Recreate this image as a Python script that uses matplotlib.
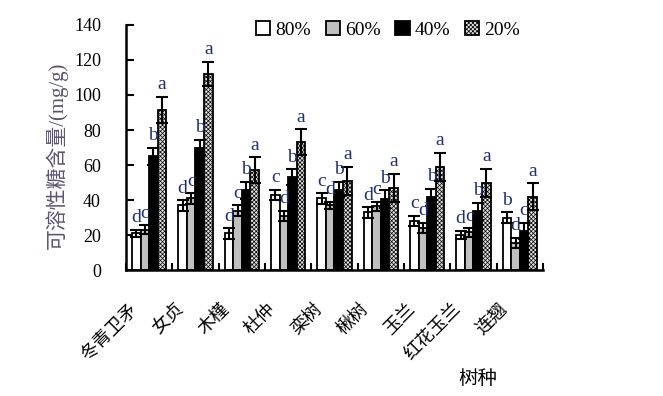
import matplotlib
matplotlib.use("Agg")
import matplotlib.pyplot as plt
import matplotlib.transforms as mtransforms
import numpy as np

species = ["冬青卫矛", "女贞", "木槿", "杜仲", "栾树", "楸树", "玉兰", "红花玉兰", "连翘"]
series = ["80%", "60%", "40%", "20%"]
v80 = [21, 37, 21, 43, 41, 33, 28, 20, 30]
v60 = [23, 41, 34, 31, 37, 36.5, 24, 21.5, 15.5]
v40 = [65, 70, 45.5, 53, 46, 40.5, 41.5, 33.5, 22.5]
v20 = [91.5, 112, 57, 73, 51, 47, 59, 50, 42]
e80 = [2, 3, 3, 3, 3, 3, 3, 2.5, 3]
e60 = [2.5, 3, 3, 3, 2, 2.5, 3, 2.5, 3]
e40 = [5, 4.5, 5, 4.5, 4.5, 5, 5, 5, 4.5]
e20 = [7.5, 7, 7.5, 7.5, 8, 8, 8, 8, 7.5]
letters = [
    ["d", "c", "b", "a"], ["d", "c", "b", "a"], ["d", "c", "b", "a"],
    ["c", "d", "b", "a"], ["c", "d", "b", "a"], ["d", "c", "b", "a"],
    ["c", "d", "b", "a"], ["d", "c", "b", "a"], ["b", "d", "c", "a"],
]
yticks = [0, 20, 40, 60, 80, 100, 120, 140]

serif = ["Liberation Serif", "Noto Sans CJK SC"]
plt.rcParams["font.family"] = serif
plt.rcParams["hatch.linewidth"] = 0.5

fig = plt.figure(figsize=(6.63, 3.96), dpi=100)
ax = fig.add_axes([0.190, 0.318, 0.629, 0.619])

vals = [v80, v60, v40, v20]
errs = [e80, e60, e40, e20]
faces = ["white", "#c0c0c0", "black", "#e0e0e0"]
hatches = [None, None, None, "xxxxxxxx"]
w = 0.185
x = np.arange(len(species))
handles = []
for k in range(4):
    xs = x + (k - 1.5) * w
    b = ax.bar(xs, vals[k], w, color=faces[k], edgecolor="black", linewidth=1.3,
               hatch=hatches[k], label=series[k], zorder=2)
    handles.append(b)
    ax.errorbar(xs, vals[k], yerr=errs[k], fmt="none", ecolor="black",
                elinewidth=1.5, capsize=4.5, capthick=1.5, zorder=3)
    for i in range(len(species)):
        ax.text(xs[i], vals[k][i] + errs[k][i] + 2.0, letters[i][k],
                ha="center", va="bottom", fontsize=14, color="#203070",
                family="Liberation Serif", zorder=4)

ax.set_xlim(-0.5, len(species) - 0.5)
ax.set_ylim(0, 140)
ax.set_yticks(yticks)
ax.set_yticklabels([str(t) for t in yticks], fontsize=13)
ax.tick_params(axis="y", direction="in", length=6, width=1.5, pad=18)
ax.set_xticks(x)
ax.set_xticklabels(species, rotation=45, ha="right", va="center",
                   rotation_mode="anchor", fontsize=13,
                   family=["Noto Sans CJK SC"], fontweight="light")
ax.tick_params(axis="x", which="major", length=0, pad=26)
off = mtransforms.ScaledTranslation(-0.15, 0, fig.dpi_scale_trans)
for lab in ax.get_xticklabels():
    lab.set_transform(lab.get_transform() + off)
ax.set_xticks(np.arange(-0.5, len(species), 1.0), minor=True)
ax.tick_params(axis="x", which="minor", direction="in", length=5, width=1.5)
for s in ["top", "right"]:
    ax.spines[s].set_visible(False)
for s in ["left", "bottom"]:
    ax.spines[s].set_linewidth(1.8)

ax.set_ylabel("可溶性糖含量/(mg/g)", fontsize=15, color="#5c5470")
ax.yaxis.set_label_coords(-0.14, 0.47)
fig.text(0.72, 0.045, "树种", fontsize=14, ha="center", va="center",
         family=["Noto Sans CJK SC"], fontweight="light")

ax.legend(handles, series, loc="center right", bbox_to_anchor=(0.945, 0.98),
          ncol=4, frameon=False, fontsize=14, handlelength=0.75, handleheight=0.75,
          handletextpad=0.25, columnspacing=0.75, borderaxespad=0, borderpad=0)

fig.savefig("out.png", dpi=100)
